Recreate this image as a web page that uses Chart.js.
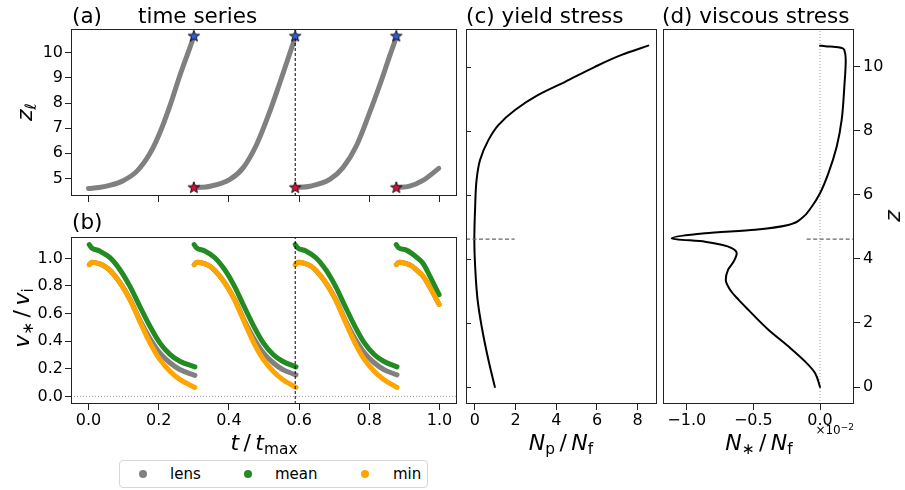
<!DOCTYPE html>
<html><head><meta charset="utf-8">
<script src="https://cdn.jsdelivr.net/npm/chart.js@4.4.1/dist/chart.umd.min.js"></script>
<style>
html,body{margin:0;padding:0;background:#fff;}
body{width:905px;height:490px;position:relative;overflow:hidden;font-family:'DejaVu Sans',sans-serif;color:#000;}
canvas{position:absolute;}
.t{position:absolute;white-space:nowrap;line-height:1;}
.ttl{font-size:21.5px;top:5px;}
.lab{font-size:22px;}
.lab sub{font-size:0.7em;vertical-align:-0.25em;line-height:0;}
.rot{transform:translate(-50%,-50%) rotate(-90deg);}
.hc{transform:translateX(-50%);}
#leg{position:absolute;left:119px;top:460px;width:307px;height:26px;border:1px solid #d6d6d6;border-radius:4px;background:#fff;}
.dot{position:absolute;width:8px;height:8px;border-radius:50%;top:9px;}
.lt{position:absolute;font-size:15px;line-height:1;top:6px;}
</style></head><body>
<canvas id="ca"></canvas>
<canvas id="cb"></canvas>
<canvas id="cc"></canvas>
<canvas id="cd"></canvas>

<div class="t ttl" style="left:72px;">(a)</div>
<div class="t ttl" style="left:138px;">time series</div>
<div class="t ttl" style="left:72px;top:211px;">(b)</div>
<div class="t ttl" style="left:466px;">(c) yield stress</div>
<div class="t ttl" style="left:662px;">(d) viscous stress</div>

<div class="t lab rot" style="left:25px;top:112px;"><i>z</i><sub><i>ℓ</i></sub></div>
<div class="t lab rot" style="left:22px;top:318px;"><i>v</i><sub>∗</sub>&thinsp;/&thinsp;<i>v</i><sub>i</sub></div>
<div class="t lab hc" style="left:264px;top:432px;"><i>t</i>&thinsp;/&thinsp;<i>t</i><sub>max</sub></div>
<div class="t lab hc" style="left:561px;top:432px;"><i>N</i><sub>p</sub>&thinsp;/&thinsp;<i>N</i><sub>f</sub></div>
<div class="t lab hc" style="left:759px;top:432px;"><i>N</i><sub>∗</sub>&thinsp;/&thinsp;<i>N</i><sub>f</sub></div>
<div class="t" style="right:51px;top:424px;font-size:12px;">×10<sup style="font-size:0.75em;vertical-align:0.45em;line-height:0;">−2</sup></div>
<div class="t lab rot" style="left:893px;top:216px;"><i>z</i></div>

<div id="leg">
  <div class="dot" style="left:19px;background:#808080;"></div>
  <div class="lt" style="left:50px;">lens</div>
  <div class="dot" style="left:124px;background:#228B22;"></div>
  <div class="lt" style="left:155px;">mean</div>
  <div class="dot" style="left:241px;background:#FFA500;"></div>
  <div class="lt" style="left:273px;">min</div>
</div>

<script>
// ---------------- DATA ----------------
// shared tick labels
const T_TICKS = [0.0, 0.2, 0.4, 0.6, 0.8, 1.0];
const ZL_TICKS = [5, 6, 7, 8, 9, 10];
const V_TICKS = [0.0, 0.2, 0.4, 0.6, 0.8, 1.0];
const NP_TICKS = [0, 2, 4, 6, 8];
const NS_TICKS = [-0.01, -0.005, 0.0];
const Z_TICKS = [0, 2, 4, 6, 8, 10];

// (a) lens position z_l vs t/t_max, one array pair per cycle
const a_t1 = [0.000, 0.030, 0.0625, 0.100, 0.138, 0.176, 0.205, 0.233, 0.261, 0.285, 0.300];
const a_z1 = [4.60, 4.64, 4.73, 4.92, 5.29, 6.02, 6.88, 7.94, 9.13, 10.06, 10.65];
const a_t2 = [0.301, 0.347, 0.403, 0.441, 0.479, 0.517, 0.545, 0.574, 0.589];
const a_z2 = [4.63, 4.69, 4.96, 5.43, 6.35, 7.68, 8.80, 10.00, 10.62];
const a_t3 = [0.589, 0.631, 0.6875, 0.725, 0.763, 0.801, 0.834, 0.858, 0.877];
const a_z3 = [4.63, 4.69, 4.96, 5.43, 6.29, 7.62, 8.88, 9.87, 10.62];
const a_t4 = [0.877, 0.915, 0.953, 0.998];
const a_z4 = [4.63, 4.69, 4.92, 5.40];
const star_t = [0.300, 0.589, 0.877];
const star_top_z = [10.66, 10.66, 10.66];
const star_bot_z = [4.63, 4.63, 4.63];
const mark_t = 0.589;

// (b) velocities v/v_i
const lens_t1 = [0.002, 0.010, 0.030, 0.044, 0.061, 0.0895, 0.118, 0.146, 0.175, 0.203, 0.232, 0.260, 0.303];
const lens_v1 = [0.955, 0.972, 0.962, 0.945, 0.913, 0.825, 0.705, 0.555, 0.420, 0.316, 0.244, 0.195, 0.152];
const lens_t2 = [0.301, 0.309, 0.330, 0.345, 0.360, 0.388, 0.416, 0.443, 0.471, 0.498, 0.526, 0.553, 0.591];
const lens_v2 = [0.955, 0.972, 0.962, 0.945, 0.913, 0.825, 0.705, 0.555, 0.420, 0.316, 0.244, 0.195, 0.156];
const lens_t3 = [0.589, 0.597, 0.618, 0.633, 0.648, 0.676, 0.704, 0.731, 0.759, 0.786, 0.814, 0.841, 0.879];
const lens_v3 = [0.955, 0.972, 0.962, 0.945, 0.913, 0.825, 0.705, 0.555, 0.420, 0.316, 0.244, 0.195, 0.156];
const lens_t4 = [0.877, 0.885, 0.906, 0.921, 0.936, 0.953, 0.973, 0.999];
const lens_v4 = [0.955, 0.972, 0.962, 0.945, 0.913, 0.872, 0.790, 0.667];

const mean_t1 = [0.002, 0.008, 0.030, 0.061, 0.0895, 0.118, 0.146, 0.175, 0.203, 0.232, 0.260, 0.303];
const mean_v1 = [1.100, 1.078, 1.055, 1.005, 0.918, 0.797, 0.653, 0.508, 0.388, 0.304, 0.255, 0.214];
const mean_t2 = [0.301, 0.307, 0.330, 0.360, 0.388, 0.416, 0.443, 0.471, 0.498, 0.526, 0.553, 0.591];
const mean_v2 = [1.100, 1.078, 1.055, 1.005, 0.918, 0.797, 0.653, 0.508, 0.388, 0.304, 0.255, 0.214];
const mean_t3 = [0.589, 0.595, 0.618, 0.648, 0.676, 0.704, 0.731, 0.759, 0.786, 0.814, 0.841, 0.879];
const mean_v3 = [1.100, 1.078, 1.055, 1.005, 0.918, 0.797, 0.653, 0.508, 0.388, 0.304, 0.255, 0.214];
const mean_t4 = [0.877, 0.883, 0.906, 0.934, 0.953, 0.973, 0.999];
const mean_v4 = [1.100, 1.078, 1.060, 1.010, 0.965, 0.870, 0.737];

const min_t1 = [0.002, 0.010, 0.030, 0.044, 0.061, 0.0895, 0.118, 0.146, 0.175, 0.203, 0.232, 0.260, 0.303];
const min_v1 = [0.955, 0.972, 0.962, 0.945, 0.913, 0.822, 0.700, 0.544, 0.388, 0.268, 0.183, 0.123, 0.065];
const min_t2 = [0.301, 0.309, 0.330, 0.345, 0.360, 0.388, 0.416, 0.443, 0.471, 0.498, 0.526, 0.553, 0.591];
const min_v2 = [0.955, 0.972, 0.962, 0.945, 0.913, 0.822, 0.700, 0.544, 0.388, 0.268, 0.183, 0.123, 0.065];
const min_t3 = [0.589, 0.597, 0.618, 0.633, 0.648, 0.676, 0.704, 0.731, 0.759, 0.786, 0.814, 0.841, 0.879];
const min_v3 = [0.955, 0.972, 0.962, 0.945, 0.913, 0.822, 0.700, 0.544, 0.388, 0.268, 0.183, 0.123, 0.065];
const min_t4 = [0.877, 0.885, 0.906, 0.921, 0.936, 0.953, 0.973, 0.999];
const min_v4 = [0.955, 0.972, 0.962, 0.945, 0.913, 0.872, 0.790, 0.667];

// (c) yield stress N_p/N_f vs z
const c_z = [0.00, 0.85, 1.89, 2.72, 3.76, 4.60, 5.63, 6.47, 7.09, 7.71, 8.18, 8.65, 9.12, 9.53, 10.00, 10.37, 10.66];
const c_n = [0.98, 0.66, 0.33, 0.13, 0.01, -0.03, 0.01, 0.08, 0.25, 0.66, 1.15, 1.97, 3.11, 4.43, 5.90, 7.21, 8.52];

// (d) viscous stress N_*/N_f vs z
const d_z = [0.00, 0.44, 0.80, 1.27, 1.79, 2.41, 2.72, 3.04, 3.35, 3.66, 3.87, 4.18, 4.34, 4.44, 4.54, 4.64, 4.80, 4.91, 5.06, 5.27, 5.63, 6.05, 6.67, 7.50, 8.34, 9.38, 10.21, 10.52, 10.61, 10.645, 10.66];
const d_n = [0.0, -0.000375, -0.001125, -0.002375, -0.003875, -0.005375, -0.0061, -0.00675, -0.00707, -0.0069, -0.00655, -0.00625, -0.006625, -0.00737, -0.008625, -0.011125, -0.008625, -0.004875, -0.002375, -0.001375, -0.000625, 0.0, 0.000625, 0.00125, 0.001625, 0.001825, 0.00193, 0.001825, 0.001375, 0.00040, 0.0];

// reference markers
const z_ref = 4.62;
const c_ref_n = [-0.44, 1.95];
const d_ref_n = [-0.001, 0.00255];

// ---------------- RENDERING ----------------
Chart.defaults.font.family = "'DejaVu Sans', sans-serif";
Chart.defaults.font.size = 16;
Chart.defaults.color = '#000';

const pts = (xs, ys) => xs.map((x, i) => ({x: x, y: ys[i]}));
const fmt1 = v => (Math.abs(v) < 1e-12 ? 0 : v).toFixed(1).replace('-', '\u2212');

function place(id, L, T, W, H, m) {
  const c = document.getElementById(id);
  c.width = W + m.l + m.r; c.height = H + m.t + m.b;
  c.style.left = (L - m.l) + 'px'; c.style.top = (T - m.t) + 'px';
  return c;
}
function axis(o) {
  return {
    type: 'linear', position: o.position, min: o.min, max: o.max, display: o.show !== false,
    afterBuildTicks: s => { s.ticks = o.ticks.map(v => ({value: v})); },
    afterFit: s => { if (s.isHorizontal()) s.height = o.size; else s.width = o.size; },
    grid: {display: true, drawOnChartArea: false, drawTicks: true, tickLength: 6, color: '#222', lineWidth: 1},
    border: {display: false},
    ticks: {display: true, padding: o.pad || 2, color: '#000', font: {size: 16}, autoSkip: false, maxRotation: 0, minRotation: 0,
            callback: o.fmt ? (v => o.fmt(v)) : (() => '')}
  };
}
function line(data, color, width, order, extra) {
  return Object.assign({data: data, showLine: true, borderColor: color, backgroundColor: color, borderWidth: width,
    pointRadius: 0, pointHoverRadius: 0, fill: false, order: order, borderCapStyle: 'round', borderJoinStyle: 'round'}, extra || {});
}
function starImg(fill) {
  const c = document.createElement('canvas'); const S = 14; c.width = S; c.height = S;
  const g = c.getContext('2d'); g.beginPath();
  for (let i = 0; i < 10; i++) { const r = i % 2 ? 2.5 : 6; const a = -Math.PI / 2 + i * Math.PI / 5; g.lineTo(S / 2 + r * Math.cos(a), S / 2 + r * Math.sin(a)); }
  g.closePath(); g.fillStyle = fill; g.fill(); g.strokeStyle = '#000'; g.lineWidth = 0.9; g.stroke();
  return c;
}
const frame = {id: 'frame', afterDatasetsDraw(ch) {
  const a = ch.chartArea, x = ch.ctx; x.save(); x.strokeStyle = '#222'; x.lineWidth = 1;
  x.strokeRect(Math.round(a.left) + 0.5, Math.round(a.top) + 0.5, Math.round(a.right - a.left) - 1, Math.round(a.bottom - a.top) - 1);
  x.restore();
}};
const innerTicks = {id: 'innerTicks', afterDatasetsDraw(ch) {
  const s = ch.scales.y, a = ch.chartArea, x = ch.ctx; x.save(); x.strokeStyle = '#222'; x.lineWidth = 1; x.beginPath();
  Z_TICKS.forEach(v => { const y = Math.round(s.getPixelForValue(v)) + 0.5; x.moveTo(a.left, y); x.lineTo(a.left + 5, y); });
  x.stroke(); x.restore();
}};
function opts(pad, sx, sy) {
  return {responsive: false, animation: false, events: [], layout: {padding: pad},
    plugins: {legend: {display: false}, tooltip: {enabled: false}}, scales: {x: sx, y: sy}};
}
const mono = {cubicInterpolationMode: 'monotone'};
const monoY = {cubicInterpolationMode: 'monotone', indexAxis: 'y'};

// (a)
const A = {minX: -0.05, maxX: 1.05, minY: 4.3, maxY: 10.95};
new Chart(place('ca', 71, 29, 386, 167, {l: 62, t: 18, r: 20, b: 12}), {
  type: 'scatter',
  data: {datasets: [
    line(pts(a_t1, a_z1), '#808080', 5, 3, mono),
    line(pts(a_t2, a_z2), '#808080', 5, 3, mono),
    line(pts(a_t3, a_z3), '#808080', 5, 3, mono),
    line(pts(a_t4, a_z4), '#808080', 5, 3, mono),
    line([{x: mark_t, y: A.minY}, {x: mark_t, y: A.maxY}], '#000', 1, 1, {borderDash: [3, 2], borderCapStyle: 'butt'}),
    {data: pts(star_t, star_top_z), pointStyle: starImg('#2f5fd6'), pointRadius: 7, order: 0, showLine: false},
    {data: pts(star_t, star_bot_z), pointStyle: starImg('#d8113c'), pointRadius: 7, order: 0, showLine: false}
  ]},
  options: opts({top: 18, right: 20, left: 0, bottom: 0},
    axis({position: 'bottom', min: A.minX, max: A.maxX, ticks: T_TICKS, size: 12}),
    axis({position: 'left', min: A.minY, max: A.maxY, ticks: ZL_TICKS, size: 62, fmt: v => String(v)})),
  plugins: [frame]
});

// (b)
const B = {minX: -0.05, maxX: 1.05, minY: -0.055, maxY: 1.155};
new Chart(place('cb', 71, 237, 386, 167, {l: 62, t: 18, r: 20, b: 32}), {
  type: 'scatter',
  data: {datasets: [
    line(pts(lens_t1, lens_v1), '#808080', 5, 4, mono),
    line(pts(lens_t2, lens_v2), '#808080', 5, 4, mono),
    line(pts(lens_t3, lens_v3), '#808080', 5, 4, mono),
    line(pts(lens_t4, lens_v4), '#808080', 5, 4, mono),
    line(pts(mean_t1, mean_v1), '#228B22', 5, 3, mono),
    line(pts(mean_t2, mean_v2), '#228B22', 5, 3, mono),
    line(pts(mean_t3, mean_v3), '#228B22', 5, 3, mono),
    line(pts(mean_t4, mean_v4), '#228B22', 5, 3, mono),
    line(pts(min_t1, min_v1), '#FFA500', 5, 2, mono),
    line(pts(min_t2, min_v2), '#FFA500', 5, 2, mono),
    line(pts(min_t3, min_v3), '#FFA500', 5, 2, mono),
    line(pts(min_t4, min_v4), '#FFA500', 5, 2, mono),
    line([{x: B.minX, y: 0}, {x: B.maxX, y: 0}], '#999', 1, 5, {borderDash: [1, 2], borderCapStyle: 'butt'}),
    line([{x: mark_t, y: B.minY}, {x: mark_t, y: B.maxY}], '#000', 1, 0, {borderDash: [3, 2], borderCapStyle: 'butt'})
  ]},
  options: opts({top: 18, right: 20, left: 0, bottom: 0},
    axis({position: 'bottom', min: B.minX, max: B.maxX, ticks: T_TICKS, size: 32, fmt: fmt1, pad: 1}),
    axis({position: 'left', min: B.minY, max: B.maxY, ticks: V_TICKS, size: 62, fmt: fmt1})),
  plugins: [frame]
});

// (c)
const C = {minX: -0.44, maxX: 8.95, minY: -0.53, maxY: 11.18};
new Chart(place('cc', 466, 29, 191, 375, {l: 10, t: 18, r: 4, b: 32}), {
  type: 'scatter',
  data: {datasets: [
    line(pts(c_n, c_z), '#000', 2, 2, monoY),
    line([{x: c_ref_n[0], y: z_ref}, {x: c_ref_n[1], y: z_ref}], '#666', 1.2, 1, {borderDash: [4, 2.5], borderCapStyle: 'butt'})
  ]},
  options: opts({top: 18, right: 4, left: 10, bottom: 0},
    axis({position: 'bottom', min: C.minX, max: C.maxX, ticks: NP_TICKS, size: 32, fmt: v => String(v), pad: 1}),
    axis({position: 'left', min: C.minY, max: C.maxY, ticks: Z_TICKS, size: 0, show: false})),
  plugins: [frame, innerTicks]
});

// (d)
const D = {minX: -0.01178, maxX: 0.00255, minY: -0.53, maxY: 11.18};
new Chart(place('cd', 663, 29, 191, 375, {l: 4, t: 18, r: 42, b: 32}), {
  type: 'scatter',
  data: {datasets: [
    line(pts(d_n, d_z), '#000', 2, 2, monoY),
    line([{x: 0, y: D.minY}, {x: 0, y: D.maxY}], '#999', 1, 3, {borderDash: [1, 2], borderCapStyle: 'butt'}),
    line([{x: d_ref_n[0], y: z_ref}, {x: d_ref_n[1], y: z_ref}], '#666', 1.2, 1, {borderDash: [4, 2.5], borderCapStyle: 'butt'})
  ]},
  options: opts({top: 18, right: 0, left: 4, bottom: 0},
    axis({position: 'bottom', min: D.minX, max: D.maxX, ticks: NS_TICKS, size: 32, fmt: v => fmt1(v * 100), pad: 1}),
    axis({position: 'right', min: D.minY, max: D.maxY, ticks: Z_TICKS, size: 42, fmt: v => String(v), pad: 3})),
  plugins: [frame]
});
</script>
</body></html>
